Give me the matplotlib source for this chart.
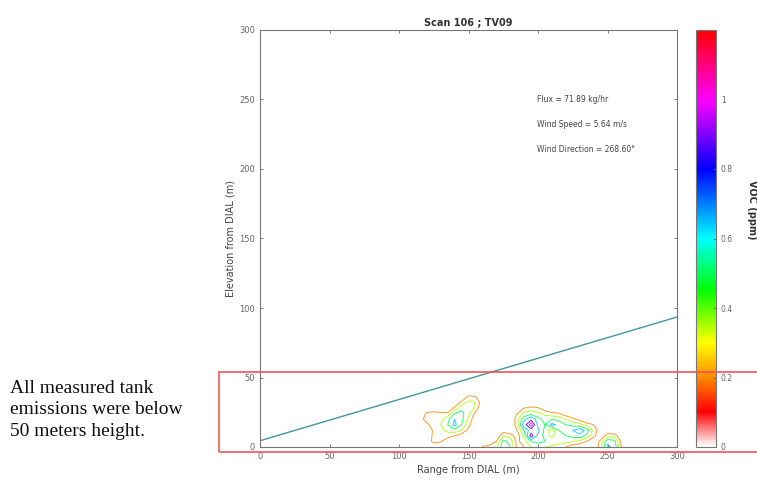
import numpy as np
import matplotlib
matplotlib.use("Agg")
import matplotlib.pyplot as plt
from matplotlib.colors import LinearSegmentedColormap, Normalize
from matplotlib.patches import Rectangle
from matplotlib.colorbar import ColorbarBase

# DIAL scan grid (range in m, elevation in m), VOC in ppm
range_m = [110, 115, 120, 125, 130, 135, 140, 145, 150, 155, 160, 165, 170, 175, 180, 185,
           190, 195, 200, 205, 210, 215, 220, 225, 230, 235, 240, 245, 250, 255, 260, 265]
elev_m = [0, 4, 8, 12, 16, 20, 24, 28, 32, 36, 40]

voc_ppm = [
    # y = 0
    [0, 0, 0, .05, 0, 0, 0, 0, 0, 0, .22, .24, .3, .6, .5, .15,
     .2, .35, .4, .35, .3, .25, .2, .1, .05, 0, 0, .3, .7, .6, .2, 0],
    # y = 4
    [0, 0, .1, .25, .22, .1, 0, 0, 0, 0, .05, .1, .2, .55, .45, .15,
     .3, .5, .55, .5, .5, .45, .4, .35, .3, .2, .05, .25, .6, .55, .15, 0],
    # y = 8
    [0, 0, .05, .25, .3, .25, .2, .1, 0, 0, 0, 0, .05, .35, .3, .1,
     .4, .95, .6, .45, .3, .5, .5, .55, .6, .45, .25, .05, .3, .3, .05, 0],
    # y = 12
    [0, 0, 0, .25, .3, .4, .45, .35, .15, 0, 0, 0, 0, .1, .05, .2,
     .5, .75, .7, .45, .25, .5, .55, .65, .75, .6, .3, .1, .05, 0, 0, 0],
    # y = 16
    [0, 0, .15, .3, .35, .5, .7, .5, .25, .05, 0, 0, 0, 0, 0, .3,
     .75, 1.1, .6, .5, .7, .6, .5, .45, .4, .3, .2, 0, 0, 0, 0, 0],
    # y = 20
    [0, .1, .3, .35, .3, .45, .65, .55, .3, .1, 0, 0, 0, 0, 0, .3,
     .6, .8, .55, .45, .5, .45, .35, .25, .15, 0, 0, 0, 0, 0, 0, 0],
    # y = 24
    [0, 0, .25, .3, .25, .25, .5, .55, .4, .15, 0, 0, 0, 0, 0, .2,
     .4, .45, .4, .3, .25, .22, .1, 0, 0, 0, 0, 0, 0, 0, 0, 0],
    # y = 28
    [0, 0, 0, 0, 0, 0, .25, .45, .5, .3, .05, 0, 0, 0, 0, 0,
     .2, .25, .22, .1, 0, 0, 0, 0, 0, 0, 0, 0, 0, 0, 0, 0],
    # y = 32
    [0, 0, 0, 0, 0, 0, 0, .25, .4, .35, .1, 0, 0, 0, 0, 0,
     0, 0, 0, 0, 0, 0, 0, 0, 0, 0, 0, 0, 0, 0, 0, 0],
    # y = 36
    [0, 0, 0, 0, 0, 0, 0, 0, .25, .22, 0, 0, 0, 0, 0, 0,
     0, 0, 0, 0, 0, 0, 0, 0, 0, 0, 0, 0, 0, 0, 0, 0],
    # y = 40
    [0] * 32,
]

contour_levels = [0.2, 0.35, 0.5, 0.65, 0.85, 1.0]

# laser beam path
beam_range = [0, 300]
beam_elev = [4.5, 93.5]

info_lines = ["Flux = 71.89 kg/hr", "Wind Speed = 5.64 m/s", "Wind Direction = 268.60\u00b0"]
cbar_ticks = [0, 0.2, 0.4, 0.6, 0.8, 1.0]
cbar_labels = ["0", "0.2", "0.4", "0.6", "0.8", "1"]

# custom colormap: white -> red -> orange -> yellow -> green -> cyan -> blue -> magenta -> red
vmax = 1.2
cmap = LinearSegmentedColormap.from_list("voc", [
    (0.0, "#ffffff"),
    (0.1 / vmax, "#ff0000"),
    (0.2 / vmax, "#ff8c00"),
    (0.3 / vmax, "#ffff00"),
    (0.45 / vmax, "#00ff00"),
    (0.6 / vmax, "#00ffff"),
    (0.8 / vmax, "#0000ff"),
    (1.0 / vmax, "#ff00ff"),
    (1.0, "#ff0000"),
])
norm = Normalize(0, vmax)

fig = plt.figure(figsize=(7.57, 4.8), dpi=100)
ax = fig.add_axes([260 / 757, 33 / 480, 417 / 757, 417 / 480])

X, Y = np.meshgrid(range_m, elev_m)
ax.contour(X, Y, np.array(voc_ppm), levels=contour_levels, cmap=cmap, norm=norm,
           linewidths=0.7, alpha=0.85)
ax.plot(beam_range, beam_elev, color="#3f96a0", lw=1.0)

ax.set_xlim(0, 300)
ax.set_ylim(0, 300)
ax.set_xticks(range(0, 301, 50))
ax.set_yticks(range(0, 301, 50))
ax.tick_params(direction="in", length=2.5, labelsize=6, colors="#666666",
               top=True, right=True, width=0.6)
for sp in ax.spines.values():
    sp.set_color("#777777")
    sp.set_linewidth(0.8)
ax.set_title("Scan 106 ; TV09", fontsize=7, fontweight="bold", color="#333333", pad=3)
ax.set_xlabel("Range from DIAL (m)", fontsize=7, color="#444444", labelpad=3)
ax.set_ylabel("Elevation from DIAL (m)", fontsize=7, color="#444444", labelpad=3)

for i, line in enumerate(info_lines):
    ax.text(199, 250 - 18 * i, line, fontsize=5.5, color="#444444", va="center")

cax = fig.add_axes([696 / 757, 33 / 480, 20 / 757, 417 / 480])
cb = ColorbarBase(cax, cmap=cmap, norm=norm, orientation="vertical")
cb.set_ticks(cbar_ticks)
cb.set_ticklabels(cbar_labels)
cax.tick_params(direction="in", length=2, labelsize=5.5, colors="#666666", width=0.6)
cb.outline.set_edgecolor("#777777")
cb.outline.set_linewidth(0.8)
fig.text(752 / 757, 1 - 210 / 480, "VOC (ppm)", rotation=-90, fontsize=7,
         fontweight="bold", color="#333333", ha="center", va="center")

# highlight box and note
fig.patches.append(Rectangle((219 / 757, 28 / 480), 0.75, 80 / 480,
                             transform=fig.transFigure, fill=False,
                             edgecolor="#f05555", lw=1.2))
fig.text(10 / 757, 1 - 410 / 480,
         "All measured tank\nemissions were below\n50 meters height.",
         family="Liberation Serif", fontsize=14, color="#111111",
         va="center", ha="left", linespacing=1.32)

fig.savefig("out.png", dpi=100)
